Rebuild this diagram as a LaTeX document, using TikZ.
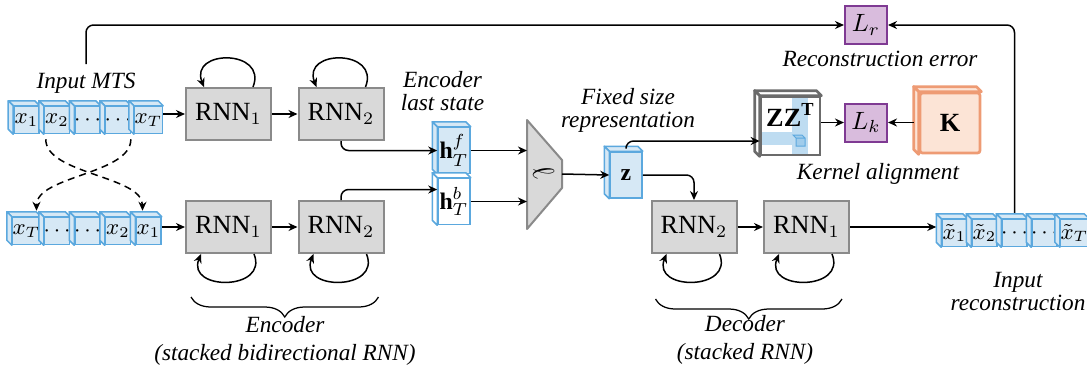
\documentclass[tikz,border=0pt]{standalone}
\usepackage{fontspec}
\setmainfont{Liberation Serif}[ItalicFont={Liberation Serif Italic}, BoldFont={Liberation Serif Bold}]
\usetikzlibrary{arrows.meta,calc,decorations.pathreplacing}

\definecolor{cellfill}{HTML}{D6E8F5}
\definecolor{celledge}{HTML}{5BA8DE}
\definecolor{rnnfill}{HTML}{D9D9D9}
\definecolor{rnnedge}{HTML}{8A8A8A}
\definecolor{lossfill}{HTML}{D9BCDD}
\definecolor{lossedge}{HTML}{7F3A93}
\definecolor{kfill}{HTML}{FCE4D6}
\definecolor{kedge}{HTML}{EE9B74}
\definecolor{zzedge}{HTML}{6B6B6B}
\definecolor{band}{HTML}{BEDCF1}

% depth faces (top and left) of a 3D box node
\newcommand{\boxdepth}[2]{%
  \filldraw[#2] (#1.north west) -- ++(-5,-5) -- ($(#1.north east)+(-5,-5)$) -- (#1.north east) -- cycle;
  \filldraw[#2] (#1.north west) -- ++(-5,-5) -- ($(#1.south west)+(-5,-5)$) -- (#1.south west) -- cycle;}

\tikzset{
  rnn/.style={draw=rnnedge, fill=rnnfill, line width=0.8pt, minimum width=34pt,
    minimum height=20.8pt, inner sep=0pt, font=\fontsize{10.5}{12}\selectfont},
  cell/.style={draw=celledge, fill=cellfill, line width=0.6pt, minimum width=10pt,
    minimum height=10.8pt, inner sep=0pt, font=\fontsize{8.8}{10}\selectfont},
  cellface/.style={draw=celledge, fill=cellfill, line width=0.6pt, line join=round},
  whiteface/.style={draw=celledge, fill=white, line width=0.6pt, line join=round},
  state/.style={cell, minimum width=12.8pt, minimum height=18.4pt,
    font=\fontsize{9.5}{10}\selectfont},
  loss/.style={draw=lossedge, fill=lossfill, line width=0.8pt, minimum width=16.8pt,
    minimum height=15.2pt, inner sep=0pt, font=\fontsize{10}{12}\selectfont},
  zzbox/.style={draw=zzedge, fill=white, line width=1.1pt, minimum width=23.6pt,
    minimum height=23.2pt, inner sep=0pt, font=\fontsize{10.5}{12}\selectfont,
    path picture={
      \fill[band] ($(path picture bounding box.north west)+(31,0)$) rectangle
        ($(path picture bounding box.south west)+(47,0)$);
      \fill[band] ($(path picture bounding box.north west)+(0,35)$) rectangle
        ($(path picture bounding box.north west)+(31,48)$);
      \filldraw[draw=celledge, fill=band!70!celledge, line width=0.4pt]
        ($(path picture bounding box.north west)+(35,41)$) rectangle ++(9,8)
        ($(path picture bounding box.north west)+(35,41)$) -- ++(-3,-3) -- ++(9,0) -- ++(3,3);
    }},
  zzface/.style={draw=zzedge, fill=white, line width=1.1pt, line join=round},
  kbox/.style={draw=kedge, fill=kfill, line width=1.1pt, minimum size=24pt,
    inner sep=0pt, rounded corners=1pt, font=\fontsize{10.5}{12}\selectfont},
  kface/.style={draw=kedge, fill=kfill, line width=1.1pt, line join=round},
  note/.style={font=\fontsize{9.3}{9.2}\selectfont\itshape, align=center},
  arr/.style={->, line width=0.6pt},
  loop/.style={->, line width=0.6pt},
}

\begin{document}
\begin{tikzpicture}[x=0.4pt, y=-0.4pt, >={Stealth[length=3.6pt,width=3.2pt]}]
  \useasboundingbox (0,0) rectangle (1087,369);

  % input series, forward and reversed
  \node[cell] (in1) at (26.5,120) {$x_1$};
  \node[cell] (in2) at (57,120) {$x_2$};
  \node[cell] (in3) at (87.5,120) {\makebox[0pt]{$\cdots$}};
  \node[cell] (in4) at (118,120) {\makebox[0pt]{$\cdots$}};
  \node[cell] (in5) at (148.5,120) {$x_T$};
  \boxdepth{in1}{cellface} \boxdepth{in2}{cellface} \boxdepth{in3}{cellface}
  \boxdepth{in4}{cellface} \boxdepth{in5}{cellface}
  \node[cell] (bin1) at (26.5,231) {$x_T$};
  \node[cell] (bin2) at (57,231) {\makebox[0pt]{$\cdots$}};
  \node[cell] (bin3) at (87.5,231) {\makebox[0pt]{$\cdots$}};
  \node[cell] (bin4) at (118,231) {$x_2$};
  \node[cell] (bin5) at (148.5,231) {$x_1$};
  \boxdepth{bin1}{cellface} \boxdepth{bin2}{cellface} \boxdepth{bin3}{cellface}
  \boxdepth{bin4}{cellface} \boxdepth{bin5}{cellface}
  \node[note] (mts) at (86,83) {Input MTS};

  % encoder
  \node[rnn] (e1) at (228.5,114) {RNN$_1$};
  \node[rnn] (e2) at (341,114) {RNN$_2$};
  \node[rnn] (b1) at (228.5,227) {RNN$_1$};
  \node[rnn] (b2) at (341,227) {RNN$_2$};
  \node[state] (hf) at (454,150.5) {$\mathbf{h}_T^f$};
  \boxdepth{hf}{cellface}
  \node[state, fill=white] (hb) at (454,201.5) {$\mathbf{h}_T^b$};
  \boxdepth{hb}{whiteface}
  \node[note, anchor=east] (last) at (493,91) {Encoder\\last state};

  % dense layer
  \coordinate (pa) at (527,120);
  \coordinate (pout) at (562,174);
  \filldraw[draw=rnnedge, fill=rnnfill, line width=0.8pt, line join=round]
    (pa) -- (562,160) -- (562,188) -- (527,229) -- cycle;
  \node[rotate=-65, font=\fontsize{12}{12}\selectfont] (proj) at (543,172) {$\ell$};

  % code and kernel alignment
  \node[state] (z) at (626,175) {$\mathbf{z}$};
  \boxdepth{z}{cellface}
  \node[note] (fixed) at (628,110) {Fixed size\\representation};
  \node[zzbox] (zz) at (790.5,126) {\raisebox{0pt}[0pt][0pt]{$\mathbf{ZZ}^{\mathbf{T}}$}};
  \boxdepth{zz}{zzface}
  \node[loss] (lk) at (866,122.5) {$L_k$};
  \node[kbox] (K) at (950,123) {$\mathbf{K}$};
  \boxdepth{K}{kface}
  \node[note] (kernel) at (878,174) {Kernel alignment};
  \node[loss] (lr) at (866,25) {$L_r$};
  \node[note] (recerr) at (880,59) {Reconstruction error};

  % decoder
  \node[rnn] (d2) at (694,227) {RNN$_2$};
  \node[rnn] (d1) at (806.5,227) {RNN$_1$};
  \node[cell] (out1) at (954.5,233) {$\tilde{x}_1$};
  \node[cell] (out2) at (984.5,233) {$\tilde{x}_2$};
  \node[cell] (out3) at (1014.5,233) {\makebox[0pt]{$\cdots$}};
  \node[cell] (out4) at (1044.5,233) {\makebox[0pt]{$\cdots$}};
  \node[cell] (out5) at (1074.5,233) {$\tilde{x}_T$};
  \boxdepth{out1}{cellface} \boxdepth{out2}{cellface} \boxdepth{out3}{cellface}
  \boxdepth{out4}{cellface} \boxdepth{out5}{cellface}
  \node[note] (inrec) at (1018,292) {Input\\reconstruction};

  % connections
  \draw[arr] (e1.west -| in5.east) -- (e1.west);
  \draw[arr] (e1) -- (e2);
  \draw[arr] (b1.west -| bin5.east) -- (b1.west);
  \draw[arr] (b1) -- (b2);
  \draw[arr, rounded corners=3pt] (e2.south) |- (hf.west);
  \draw[arr, rounded corners=3pt] (b2.north) |- ($(hb.west)+(0,-12)$);
  \draw[arr] (hf.east) -- (hf.east -| pa);
  \draw[arr] (hb.east) -- (hb.east -| pa);
  \draw[arr] (pout) -- (z.west);
  \draw[arr, rounded corners=3pt] ($(z.north)+(0,-5)$) |- ($(zz.west)+(0,15)$);
  \draw[arr, rounded corners=3pt] (z.east) -| (d2.north);
  \draw[arr] (lk.west -| zz.east) -- (lk.west);
  \draw[arr] ($(lk.east -| K.west)+(-5,0)$) -- (lk.east);
  \draw[arr] (d2) -- (d1);
  \draw[arr] (d1.east) -- ($(d1.east -| out1.west)+(-5,0)$);
  \draw[arr, rounded corners=3pt] (mts.north) |- (lr.west);
  \draw[arr, rounded corners=3pt] ($(out3.north)+(0,-6)$) |- (lr.east);

  % reversing the input
  \draw[arr, dash pattern=on 2.8pt off 2pt] ($(in1.south east)+(6,5)$)
    .. controls +(0,35) and +(0,-35) .. ($(bin5.north)+(-6,-6)$);
  \draw[arr, dash pattern=on 2.8pt off 2pt] ($(in5.south west)+(-3,5)$)
    .. controls +(0,35) and +(0,-35) .. ($(bin1.north)+(10,-6)$);

  % recurrences
  \draw[loop] ($(e1.north east)+(-19,0)$) .. controls +(15,-38) and +(-15,-38) .. ($(e1.north west)+(19,0)$);
  \draw[loop] ($(e2.north east)+(-19,0)$) .. controls +(15,-38) and +(-15,-38) .. ($(e2.north west)+(19,0)$);
  \draw[loop] ($(b1.south east)+(-18,0)$) .. controls +(15,37) and +(-15,37) .. ($(b1.south west)+(16,0)$);
  \draw[loop] ($(b2.south east)+(-18,0)$) .. controls +(15,37) and +(-15,37) .. ($(b2.south west)+(16,0)$);
  \draw[loop] ($(d2.south east)+(-18,0)$) .. controls +(15,37) and +(-15,37) .. ($(d2.south west)+(16,0)$);
  \draw[loop] ($(d1.south east)+(-18,0)$) .. controls +(15,37) and +(-15,37) .. ($(d1.south west)+(16,0)$);

  % braces
  \draw[line width=0.5pt, decorate, decoration={brace, amplitude=8pt}]
    ($(b2.south east)+(-6,43)$) -- ($(b1.south west)+(6,43)$);
  \draw[line width=0.5pt, decorate, decoration={brace, amplitude=8pt}]
    ($(d1.south east)+(-8,45)$) -- ($(d2.south west)+(5,45)$);
  \node[note] (enc) at (285,341) {Encoder\\[2pt](stacked bidirectional RNN)};
  \node[note] (dec) at (745,340) {Decoder\\[2pt](stacked RNN)};
\end{tikzpicture}
\end{document}
